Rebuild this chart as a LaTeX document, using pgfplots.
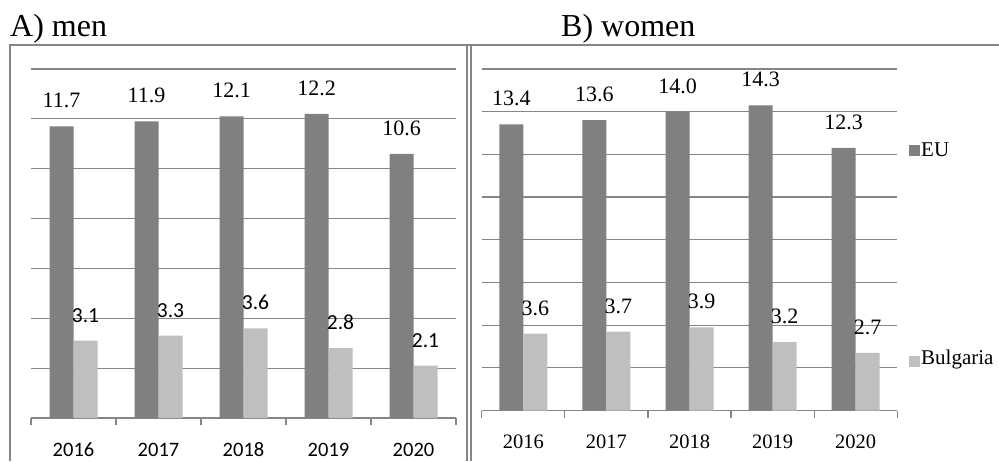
\documentclass[border=0pt]{standalone}
\usepackage{pgfplots}
\pgfplotsset{compat=1.18}
\usepackage{fontspec}
\setmainfont{Liberation Serif}
\newfontfamily\carlito{Carlito}
\definecolor{eu}{RGB}{128,128,128}
\definecolor{bg}{RGB}{191,191,191}
\definecolor{ln}{RGB}{134,134,134}
\pgfplotsset{
  panel/.style={
    anchor=south west, scale only axis,
    xmin=-0.5, xmax=4.5, ymin=0,
    ybar=0pt, bar width=24pt,
    axis x line*=bottom, axis y line*=left,
    y axis line style={draw=none}, ytick style={draw=none}, yticklabels={},
    x axis line style={ln, line width=1.2pt},
    ymajorgrids, grid style={ln, line width=1.2pt},
    xtick={0,1,2,3,4}, xticklabels={2016,2017,2018,2019,2020},
    major x tick style={draw=none},
    minor xtick={-0.5,0.5,1.5,2.5,3.5,4.5},
    minor x tick style={ln, line width=1.2pt},
    minor tick length=7pt, tick align=outside,
    point meta=explicit symbolic,
    nodes near coords,
  },
}
\begin{document}
\begin{tikzpicture}
\path[use as bounding box] (0pt,0pt) rectangle (999pt,461pt);
\draw[ln, line width=1.5pt] (10pt,0pt) -- (10pt,416pt) -- (999pt,416pt);
\draw[ln, line width=1.3pt] (467pt,0pt) -- (467pt,416pt) (471pt,0pt) -- (471pt,416pt);
\node[anchor=base west, font=\fontsize{32}{38}\selectfont, inner sep=0pt] at (10pt,424pt) {A) men};
\node[anchor=base west, font=\fontsize{32}{38}\selectfont, inner sep=0pt] at (561pt,424pt) {B) women};

% A) men
\begin{axis}[panel, at={(31pt,43pt)}, width=425pt, height=349pt,
  ymax=14, ytick={0,2,...,14},
  xticklabel style={font=\carlito\fontsize{20.5}{24}\selectfont, inner sep=0pt, anchor=base, yshift=-34.5pt},
]
\addplot[fill=eu, draw=none, every node near coord/.append style={font=\fontsize{22}{26}\selectfont, inner sep=0pt, yshift=18pt}]
  coordinates {(0,11.7)[11.7] (1,11.9)[11.9] (2,12.1)[12.1] (3,12.2)[12.2] (4,10.6)[10.6]};
\addplot[fill=bg, draw=none, every node near coord/.append style={font=\carlito\fontsize{21.5}{25}\selectfont, inner sep=0pt, yshift=18pt}]
  coordinates {(0,3.1)[3.1] (1,3.3)[3.3] (2,3.6)[3.6] (3,2.8)[2.8] (4,2.1)[2.1]};
\end{axis}

% B) women
\begin{axis}[panel, at={(481.7pt,50.5pt)}, width=415.6pt, height=341.5pt,
  ymax=16, ytick={0,2,...,16},
  xticklabel style={font=\fontsize{20.5}{24}\selectfont, inner sep=0pt, anchor=base, yshift=-33.5pt},
]
\addplot[fill=eu, draw=none, every node near coord/.append style={font=\fontsize{22}{26}\selectfont, inner sep=0pt, yshift=18pt}]
  coordinates {(0,13.4)[13.4] (1,13.6)[13.6] (2,14.0)[14.0] (3,14.3)[14.3] (4,12.3)[12.3]};
\addplot[fill=bg, draw=none, every node near coord/.append style={font=\fontsize{22}{26}\selectfont, inner sep=0pt, yshift=18pt}]
  coordinates {(0,3.6)[3.6] (1,3.7)[3.7] (2,3.9)[3.9] (3,3.2)[3.2] (4,2.7)[2.7]};
\end{axis}

% legend
\fill[eu] (909pt,305pt) rectangle (920pt,316pt);
\node[anchor=base west, inner sep=0pt, font=\fontsize{21}{25}\selectfont] at (921pt,304pt) {EU};
\fill[bg] (909pt,94pt) rectangle (920pt,105pt);
\node[anchor=base west, inner sep=0pt, font=\fontsize{21}{25}\selectfont] at (921pt,96pt) {Bulgaria};
\end{tikzpicture}
\end{document}
